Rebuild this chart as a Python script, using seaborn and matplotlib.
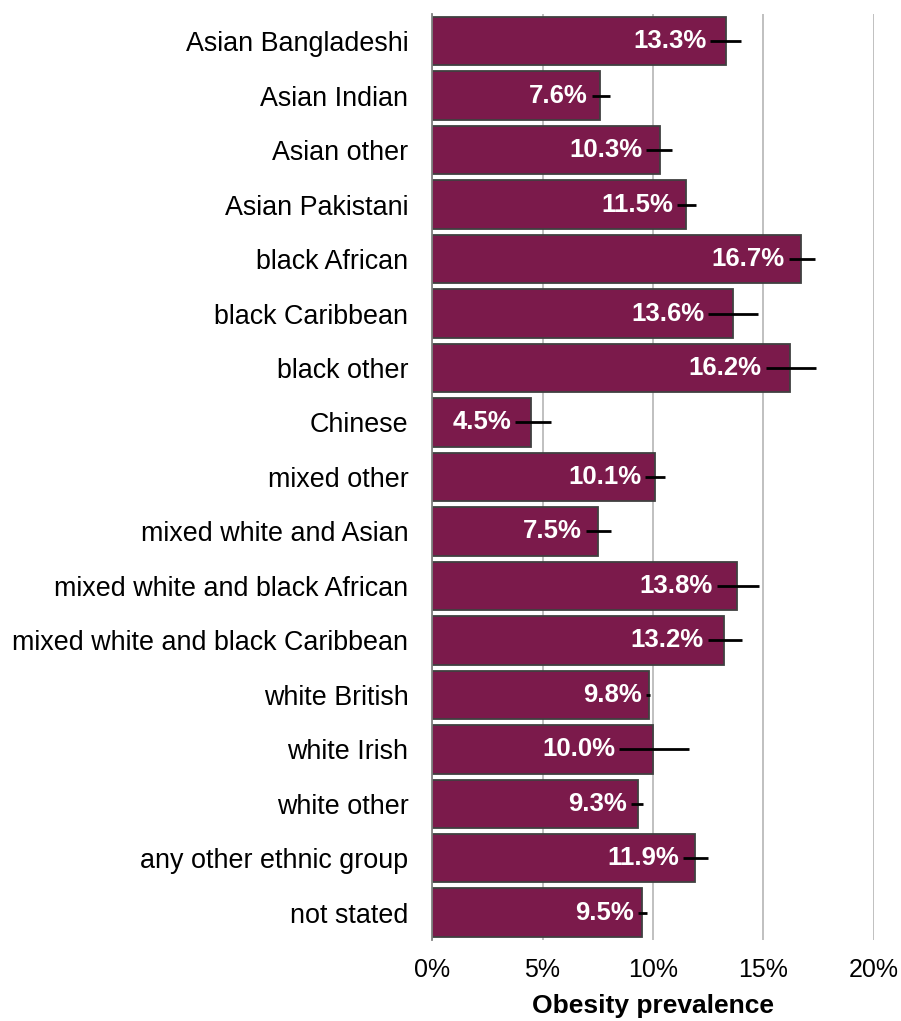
import pandas as pd
import seaborn as sns
import matplotlib.pyplot as plt
from matplotlib.ticker import FixedLocator, PercentFormatter

# Data
groups = ["Asian Bangladeshi", "Asian Indian", "Asian other", "Asian Pakistani",
          "black African", "black Caribbean", "black other", "Chinese",
          "mixed other", "mixed white and Asian", "mixed white and black African",
          "mixed white and black Caribbean", "white British", "white Irish",
          "white other", "any other ethnic group", "not stated"]
prevalence = [13.3, 7.6, 10.3, 11.5, 16.7, 13.6, 16.2, 4.5, 10.1, 7.5, 13.8,
              13.2, 9.8, 10.0, 9.3, 11.9, 9.5]
ci_low = [12.6, 7.25, 9.7, 11.1, 16.15, 12.5, 15.1, 3.77, 9.66, 6.96, 12.88,
          12.47, 9.68, 8.48, 9.0, 11.38, 9.33]
ci_high = [14.0, 8.06, 10.88, 11.96, 17.31, 14.75, 17.39, 5.37, 10.55, 8.09, 14.81,
           14.01, 9.86, 11.65, 9.54, 12.47, 9.72]

df = pd.DataFrame({"group": groups, "prevalence": prevalence,
                   "low": ci_low, "high": ci_high})

sns.set_style("white")
plt.rcParams["font.family"] = ["Liberation Sans", "DejaVu Sans"]
plt.rcParams["text.color"] = "black"
plt.rcParams["axes.labelcolor"] = "black"
plt.rcParams["xtick.color"] = "black"
plt.rcParams["ytick.color"] = "black"

fig, ax = plt.subplots(figsize=(9.01, 10.21), dpi=100)
fig.subplots_adjust(left=0.4795, right=0.970, top=0.9863, bottom=0.0794)

sns.barplot(data=df, x="prevalence", y="group", orient="h", color="#7B1A4B",
            saturation=1, edgecolor="#404040", linewidth=1.3, width=0.89,
            errorbar=None, ax=ax, zorder=2)

# confidence intervals
ax.hlines(range(len(df)), df["low"], df["high"], color="black", lw=2, zorder=3)

# value labels, right-aligned just before the interval
for i, row in df.iterrows():
    ax.annotate(f"{row['prevalence']:.1f}%", xy=(row["low"], i),
                xytext=(-3, 0), textcoords="offset points",
                ha="right", va="center", color="white",
                fontsize=18.5, fontweight="bold", zorder=4)

ax.set_xlim(0, 20)
ax.set_ylim(len(df) - 0.5, -0.5)
ax.xaxis.set_major_formatter(PercentFormatter(decimals=0))
ax.set_xticks([0, 5, 10, 15, 20])
ax.grid(axis="x", color="#BBBBBB", lw=1.3, zorder=0)
ax.grid(axis="y", visible=False)

for s in ["top", "right", "bottom"]:
    ax.spines[s].set_visible(False)
ax.spines["left"].set_color("#808080")
ax.spines["left"].set_linewidth(1.3)

ax.tick_params(axis="y", which="major", length=0, labelsize=19.4, pad=17)
ax.yaxis.set_minor_locator(FixedLocator([k - 0.5 for k in range(len(df) + 1)]))
ax.tick_params(axis="y", which="minor", length=6, color="#808080", width=1.3)
ax.tick_params(axis="x", length=0, labelsize=18, pad=13)

ax.set_ylabel("")
ax.set_xlabel("Obesity prevalence", fontsize=19, fontweight="bold", labelpad=9)

fig.savefig("out.png", dpi=100)
